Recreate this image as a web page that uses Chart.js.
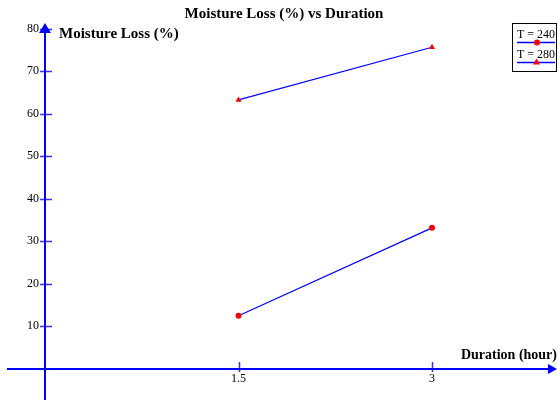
<!DOCTYPE html>
<html>
<head>
<meta charset="utf-8">
<script src="https://cdn.jsdelivr.net/npm/chart.js@4"></script>
<style>
  html, body { margin: 0; padding: 0; background: #fff; }
  canvas { display: block; }
</style>
</head>
<body>
<canvas id="chart" width="557" height="400"></canvas>
<script>
const durations = [1.5, 3];
const loss240 = [12.4, 33.1];
const loss280 = [63.2, 75.6];
const seriesLabels = ['T = 240', 'T = 280'];
const xTicks = [1.5, 3];
const yTicks = [10, 20, 30, 40, 50, 60, 70, 80];

const axisBlue = '#0000ff';
const serif = '"Liberation Serif", "Times New Roman", serif';

// axes, ticks, titles and legend are painted on top of hidden scales
const axesPlugin = {
  id: 'axesPlugin',
  beforeDatasetsDraw(chart) {
    const ctx = chart.ctx;
    const xs = chart.scales.x, ys = chart.scales.y;
    const x0 = Math.round(xs.getPixelForValue(0));
    const y0 = Math.round(ys.getPixelForValue(0));
    ctx.save();
    ctx.strokeStyle = axisBlue;
    ctx.fillStyle = axisBlue;

    // y axis + arrow
    ctx.lineWidth = 2;
    ctx.beginPath();
    ctx.moveTo(x0, chart.height);
    ctx.lineTo(x0, 30);
    ctx.stroke();
    ctx.beginPath();
    ctx.moveTo(x0, 23);
    ctx.lineTo(x0 - 6, 33);
    ctx.lineTo(x0 + 6, 33);
    ctx.closePath();
    ctx.fill();

    // x axis + arrow
    ctx.beginPath();
    ctx.moveTo(7, y0);
    ctx.lineTo(chart.width - 6, y0);
    ctx.stroke();
    ctx.beginPath();
    ctx.moveTo(chart.width, y0);
    ctx.lineTo(chart.width - 9, y0 - 5);
    ctx.lineTo(chart.width - 9, y0 + 5);
    ctx.closePath();
    ctx.fill();

    // tick marks
    ctx.lineWidth = 1.5;
    ctx.strokeStyle = 'rgba(0,0,255,0.8)';
    yTicks.forEach(v => {
      const y = Math.round(ys.getPixelForValue(v)) + 0.5;
      ctx.beginPath();
      ctx.moveTo(x0 - 5, y);
      ctx.lineTo(x0 + 7, y);
      ctx.stroke();
    });
    xTicks.forEach(v => {
      const x = Math.round(xs.getPixelForValue(v)) + 0.5;
      ctx.beginPath();
      ctx.moveTo(x, y0 - 7);
      ctx.lineTo(x, y0 + 3);
      ctx.stroke();
    });

    // tick labels
    ctx.fillStyle = '#000';
    ctx.font = '12px ' + serif;
    ctx.textAlign = 'right';
    ctx.textBaseline = 'middle';
    yTicks.forEach(v => ctx.fillText(String(v), x0 - 6, ys.getPixelForValue(v)));
    ctx.textAlign = 'center';
    ctx.textBaseline = 'top';
    xTicks.forEach(v => ctx.fillText(String(v), xs.getPixelForValue(v), y0 + 4));

    // titles
    ctx.font = 'bold 15px ' + serif;
    ctx.textBaseline = 'middle';
    ctx.textAlign = 'center';
    ctx.fillText('Moisture Loss (%) vs Duration', 284, 14);
    ctx.textAlign = 'left';
    ctx.fillText('Moisture Loss (%)', 59, 34);
    ctx.font = 'bold 14px ' + serif;
    ctx.textAlign = 'right';
    ctx.fillText('Duration (hour)', 557, 355);
    ctx.restore();
  },
  afterDraw(chart) {
    const ctx = chart.ctx;
    ctx.save();
    ctx.strokeStyle = '#000';
    ctx.lineWidth = 1;
    ctx.strokeRect(512.5, 23.5, 44, 48);
    ctx.font = '12px ' + serif;
    ctx.fillStyle = '#000';
    ctx.textAlign = 'left';
    ctx.textBaseline = 'middle';
    const rows = [{ y: 35, line: 42.5, style: 'circle' }, { y: 54.5, line: 62.5, style: 'triangle' }];
    rows.forEach((r, i) => {
      ctx.fillText(seriesLabels[i], 517, r.y);
      ctx.strokeStyle = axisBlue;
      ctx.lineWidth = 1.5;
      ctx.beginPath();
      ctx.moveTo(517, r.line);
      ctx.lineTo(555, r.line);
      ctx.stroke();
      ctx.fillStyle = 'red';
      ctx.beginPath();
      if (r.style === 'circle') {
        ctx.arc(537, r.line, 3, 0, Math.PI * 2);
      } else {
        ctx.moveTo(536.5, r.line - 4);
        ctx.lineTo(533, r.line + 2);
        ctx.lineTo(540, r.line + 2);
        ctx.closePath();
      }
      ctx.fill();
      ctx.fillStyle = '#000';
    });
    ctx.restore();
  }
};

new Chart(document.getElementById('chart'), {
  type: 'scatter',
  data: {
    datasets: [
      {
        label: seriesLabels[0],
        data: durations.map((d, i) => ({ x: d, y: loss240[i] })),
        showLine: true,
        borderColor: axisBlue,
        borderWidth: 1.2,
        pointStyle: 'circle',
        pointRadius: 3,
        pointBackgroundColor: 'red',
        pointBorderColor: 'red',
        pointBorderWidth: 0
      },
      {
        label: seriesLabels[1],
        data: durations.map((d, i) => ({ x: d, y: loss280[i] })),
        showLine: true,
        borderColor: axisBlue,
        borderWidth: 1.2,
        pointStyle: 'triangle',
        pointRadius: 3.5,
        pointBackgroundColor: 'red',
        pointBorderColor: 'red',
        pointBorderWidth: 0
      }
    ]
  },
  options: {
    responsive: false,
    animation: false,
    devicePixelRatio: 1,
    layout: { padding: 0, autoPadding: false },
    plugins: {
      legend: { display: false },
      title: { display: false },
      tooltip: { enabled: false }
    },
    scales: {
      x: { type: 'linear', display: false, min: -0.349, max: 3.969 },
      y: { type: 'linear', display: false, min: -7.41, max: 86.71 }
    }
  },
  plugins: [axesPlugin]
});
</script>
</body>
</html>
